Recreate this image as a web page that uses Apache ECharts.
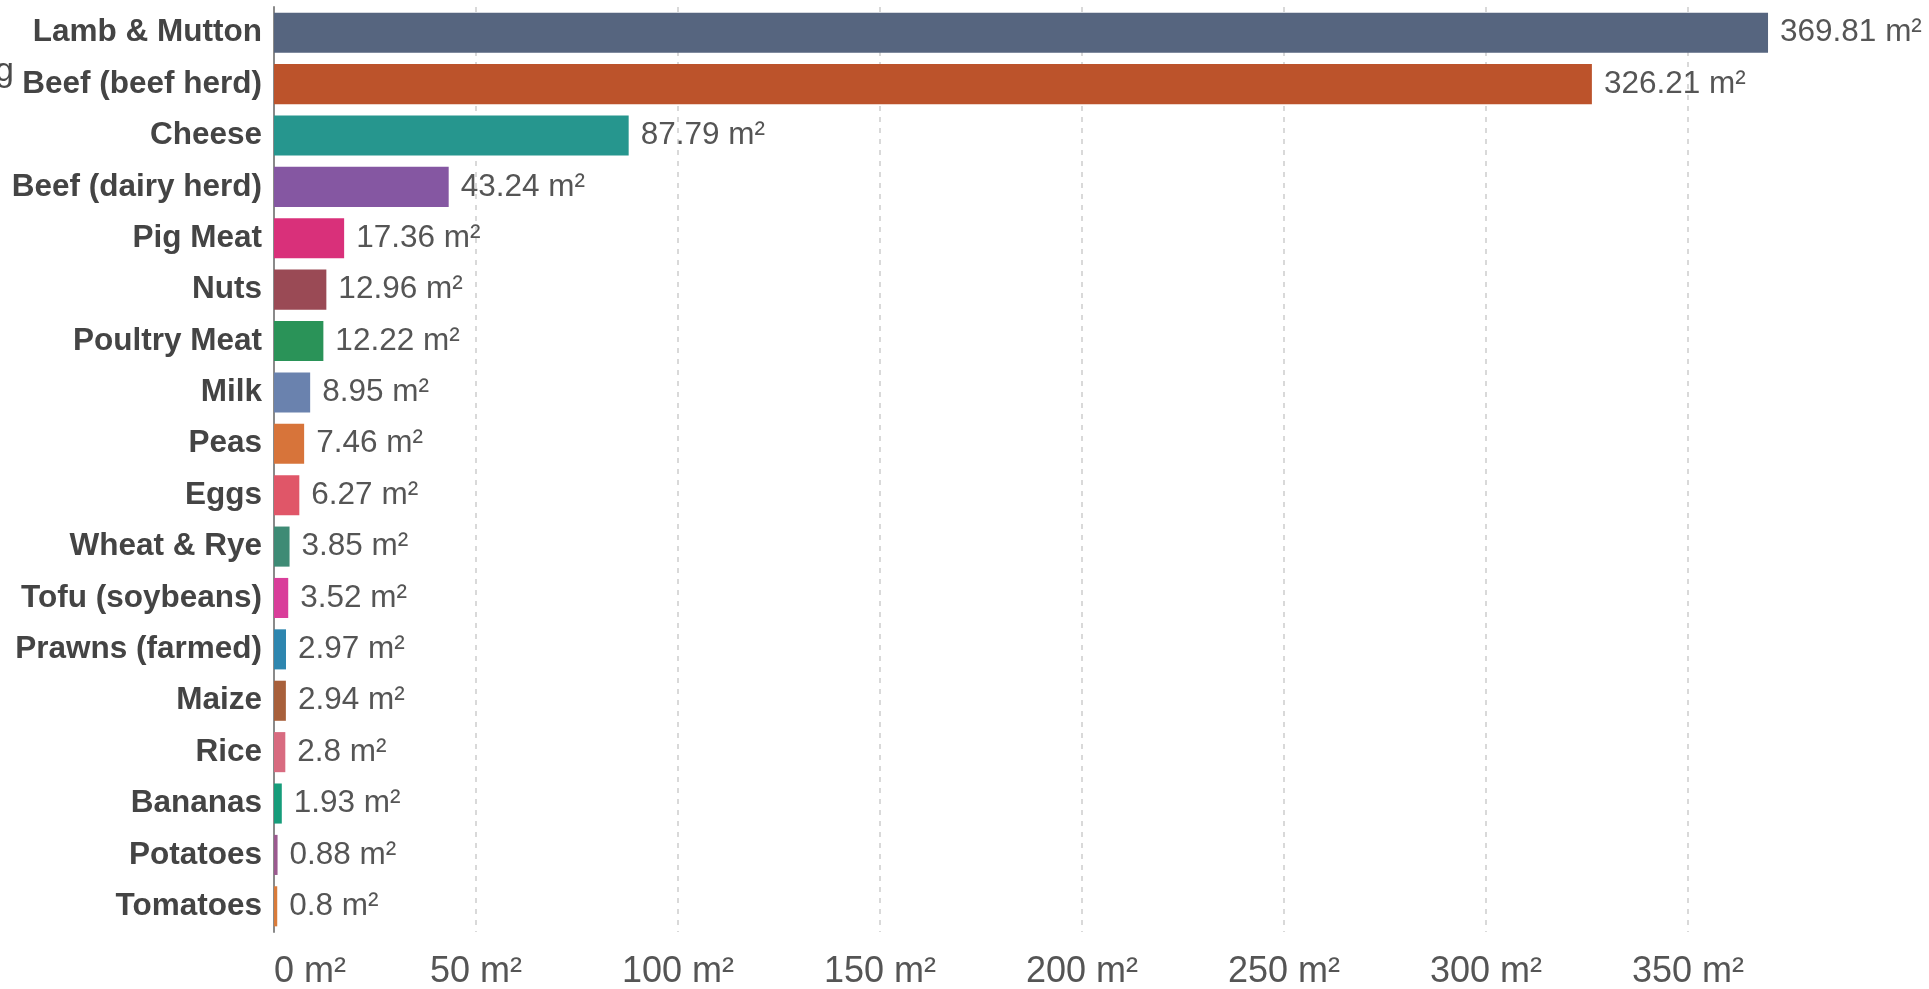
<!DOCTYPE html>
<html>
<head>
<meta charset="utf-8">
<title>Land use per kilogram of food</title>
<script src="https://cdn.jsdelivr.net/npm/echarts@6/dist/echarts.min.js"></script>
<style>
  html, body { margin: 0; padding: 0; background: #ffffff; }
  #chart { width: 1929px; height: 989px; }
</style>
</head>
<body>
<div id="chart"></div>
<script>
// Food products, largest land footprint first
const foods = [
  'Lamb & Mutton', 'Beef (beef herd)', 'Cheese', 'Beef (dairy herd)', 'Pig Meat',
  'Nuts', 'Poultry Meat', 'Milk', 'Peas', 'Eggs', 'Wheat & Rye', 'Tofu (soybeans)',
  'Prawns (farmed)', 'Maize', 'Rice', 'Bananas', 'Potatoes', 'Tomatoes'
];

// Land use in square metres
const landUse = [
  369.81, 326.21, 87.79, 43.24, 17.36, 12.96, 12.22, 8.95, 7.46, 6.27,
  3.85, 3.52, 2.97, 2.94, 2.8, 1.93, 0.88, 0.8
];

// One colour per food
const barColors = [
  '#56657f', '#bc532b', '#26968e', '#8557a2', '#d9307a', '#9a4a55',
  '#2a9358', '#6a82ae', '#d7743a', '#e05668', '#3e8b75', '#d93e9a',
  '#2e86af', '#a8603b', '#d86b80', '#169c7a', '#9b5a8f', '#d97b3a'
];

// Horizontal axis ticks
const tickValues = [0, 50, 100, 150, 200, 250, 300, 350];

const FONT = '"Liberation Sans", Arial, Helvetica, sans-serif';

const chart = echarts.init(document.getElementById('chart'), null, { renderer: 'canvas' });

chart.setOption({
  backgroundColor: '#ffffff',
  animation: false,
  grid: { left: 274, top: 7, height: 925, right: 39, outerBoundsMode: 'none' },
  xAxis: {
    type: 'value',
    min: 0,
    max: 400,
    interval: 50,
    axisLine: { show: false },
    axisTick: { show: false },
    axisLabel: {
      fontFamily: FONT,
      fontSize: 36,
      color: '#555555',
      margin: 22,
      alignMinLabel: 'left',
      showMaxLabel: false,
      formatter: v => (tickValues.indexOf(v) >= 0 ? v + ' m²' : '')
    },
    splitLine: {
      show: true,
      showMinLine: false,
      showMaxLine: false,
      lineStyle: { color: '#d9d9d9', width: 2, type: [5, 6] }
    }
  },
  yAxis: {
    type: 'category',
    data: foods,
    inverse: true,
    axisLine: { show: true, lineStyle: { color: '#8a8a8a', width: 2 } },
    axisTick: { show: false },
    axisLabel: {
      fontFamily: FONT,
      fontSize: 31.5,
      fontWeight: 'bold',
      color: '#444444',
      margin: 12
    }
  },
  series: [{
    type: 'bar',
    data: landUse.map((v, i) => ({ value: v, itemStyle: { color: barColors[i] } })),
    barCategoryGap: '22%',
    label: {
      show: true,
      position: 'right',
      distance: 12,
      fontFamily: FONT,
      fontSize: 31.5,
      color: '#555555',
      formatter: p => p.value + ' m²'
    }
  }],
  graphic: [{
    type: 'text',
    left: -5,
    top: 55,
    style: { text: 'g', font: '34px ' + FONT, fill: '#4a4a4a' }
  }]
});
</script>
</body>
</html>
